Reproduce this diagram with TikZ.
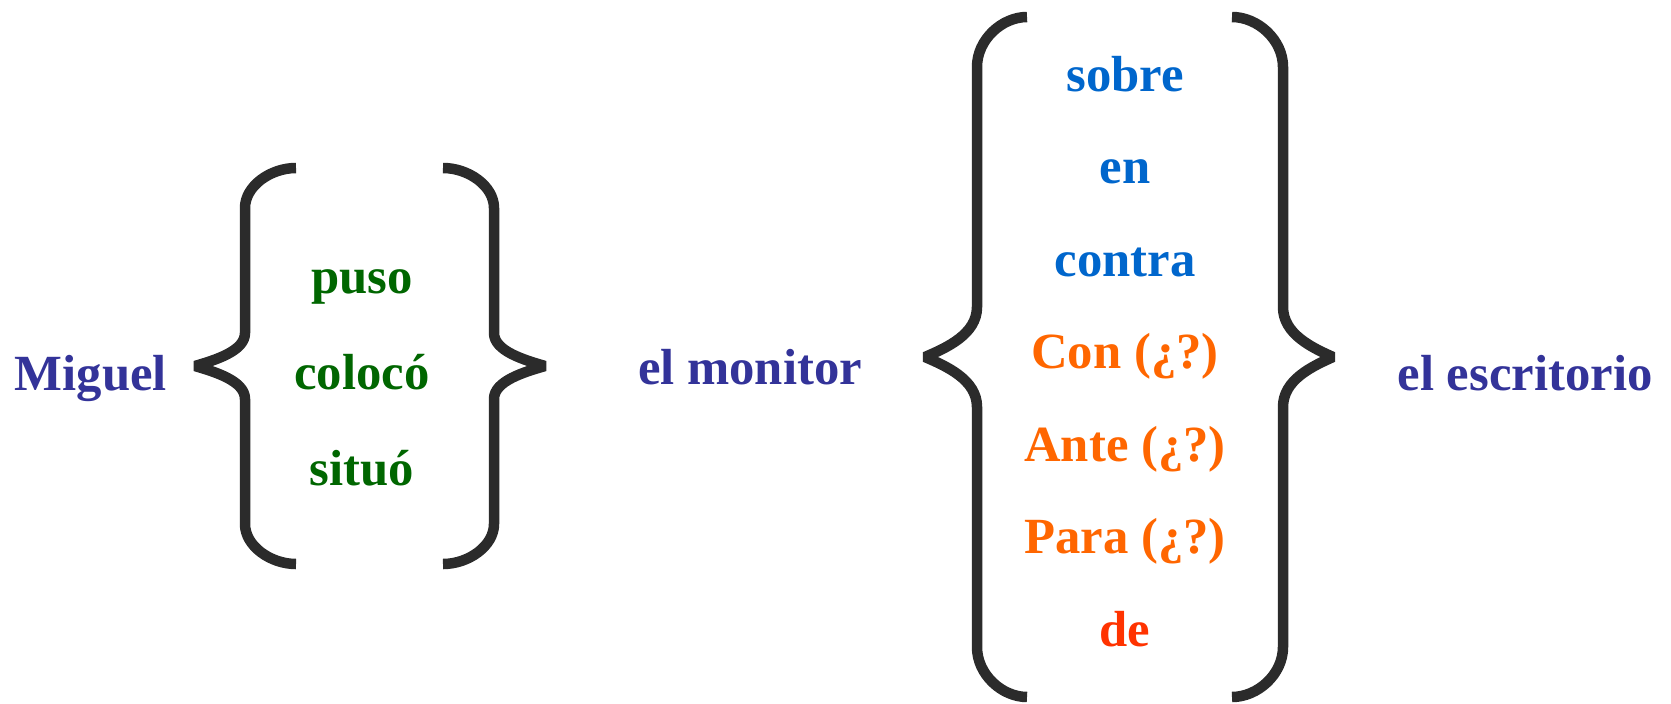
\documentclass[tikz,border=0pt]{standalone}
\usepackage{fontspec}
\setmainfont{Liberation Serif}
\definecolor{navy}{HTML}{333399}
\definecolor{verbgreen}{HTML}{006600}
\definecolor{prepblue}{HTML}{0066CC}
\definecolor{preporange}{HTML}{FF6600}
\definecolor{prepred}{HTML}{FF3300}
\definecolor{bracecol}{HTML}{2B2B2B}
% #1 end x, #2 vertical x, #3 tip x, #4 top y, #5 centre y, #6 bottom y, #7 hook size, #8 middle size
\newcommand{\drawcurlybrace}[8]{%
  \draw[bracestroke]
    (#1,#4) .. controls ({#1+0.5*(#2-#1)},#4) and (#2,{#4+0.45*#7}) .. (#2,{#4+#7})
    -- (#2,{#5-#8}) .. controls (#2,{#5-0.45*#8}) and ({#3+0.4*(#2-#3)},{#5-0.18*#8}) .. (#3,#5)
    .. controls ({#3+0.4*(#2-#3)},{#5+0.18*#8}) and (#2,{#5+0.45*#8}) .. (#2,{#5+#8})
    -- (#2,{#6-#7}) .. controls (#2,{#6-0.45*#7}) and ({#1+0.5*(#2-#1)},#6) .. (#1,#6);
}
\begin{document}
\begin{tikzpicture}[x=1pt,y=-1pt,
  word/.style={anchor=base,inner sep=0pt,font=\fontsize{50.7}{60}\selectfont\bfseries},
  bracestroke/.style={line width=10.5pt,draw=bracecol,line cap=butt,line join=bevel}]
\useasboundingbox (0,0) rectangle (1671,704);

% left text
\node[word,text=navy] (miguel) at (91,390) {Miguel};

% small braces
\drawcurlybrace{296}{245}{195}{168}{366}{564}{40}{33}
\drawcurlybrace{443}{494}{545}{168}{366}{564}{40}{33}

\node[word,text=verbgreen] (puso) at (362,293) {puso};
\node[word,text=verbgreen] (coloco) at (362,389) {colocó};
\node[word,text=verbgreen] (situo) at (362,485) {situó};

\node[word,text=navy] (monitor) at (750,384) {el monitor};

% big braces
\drawcurlybrace{1027}{977}{925}{17}{357}{697}{50}{50}
\drawcurlybrace{1232}{1283}{1333}{17}{357}{697}{50}{50}

\node[word,text=prepblue] (sobre) at (1125,91) {sobre};
\node[word,text=prepblue] (en) at (1125,183.5) {en};
\node[word,text=prepblue] (contra) at (1125,276) {contra};
\node[word,text=preporange] (con) at (1125,368.5) {Con (¿?)};
\node[word,text=preporange] (ante) at (1125,461) {Ante (¿?)};
\node[word,text=preporange] (para) at (1125,553.5) {Para (¿?)};
\node[word,text=prepred] (de) at (1125,646) {de};

\node[word,text=navy] (escritorio) at (1525,390) {el escritorio};
\end{tikzpicture}
\end{document}
